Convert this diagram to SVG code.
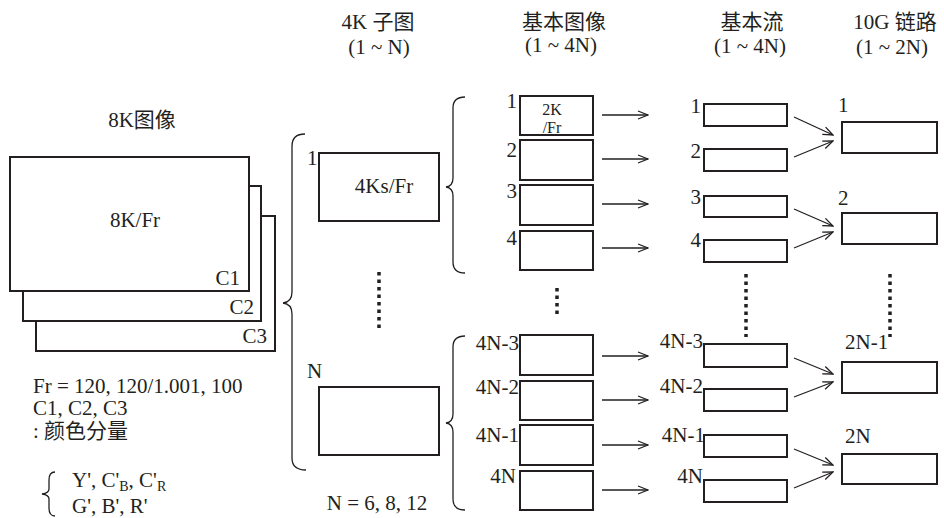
<svg xmlns="http://www.w3.org/2000/svg" width="944" height="518" viewBox="0 0 944 518">
<defs>
<marker id="ah" markerWidth="12" markerHeight="10" refX="11" refY="5" orient="auto" markerUnits="userSpaceOnUse">
<path d="M1,1 L11,5 L1,9" fill="none" stroke="#231f20" stroke-width="1.3"/>
</marker>
</defs>
<style>
text{font-family:'Liberation Serif','Times New Roman',serif;font-size:21px;fill:#231f20}
.cj{font-family:'Liberation Serif','Noto Sans CJK SC',serif}
.m{text-anchor:middle}
.e{text-anchor:end}
.box{fill:#fff;stroke:#231f20;stroke-width:2}
.br{fill:none;stroke:#231f20;stroke-width:1.3}
.arr{fill:none;stroke:#231f20;stroke-width:1.3;marker-end:url(#ah)}
.dot{fill:none;stroke:#231f20;stroke-width:3.5;stroke-dasharray:3.5 4}
.sm{font-size:16px}
.sub{font-size:14px}
</style>
<rect width="944" height="518" fill="#fff"/>

<g id="headers">
<text class="m cj" x="378" y="29">4K 子图</text>
<text class="m" x="379" y="54">(1 ~ N)</text>
<text class="m cj" x="564" y="29">基本图像</text>
<text class="m" x="561" y="52">(1 ~ 4N)</text>
<text class="m cj" x="752" y="29">基本流</text>
<text class="m" x="750" y="53">(1 ~ 4N)</text>
<text class="m cj" x="895" y="29">10G 链路</text>
<text class="m" x="892" y="54">(1 ~ 2N)</text>
</g>

<g id="image8k">
<text class="m cj" x="142" y="127">8K图像</text>
<rect class="box" x="36" y="216" width="239" height="135"/>
<rect class="box" x="23" y="186" width="238" height="135"/>
<rect class="box" x="10" y="157" width="239" height="134"/>
<text class="m" x="135" y="227">8K/Fr</text>
<text class="e" x="240" y="285">C1</text>
<text class="e" x="254" y="314">C2</text>
<text class="e" x="267" y="343">C3</text>
</g>

<g id="notes">
<text x="33" y="393">Fr = 120, 120/1.001, 100</text>
<text x="33" y="415">C1, C2, C3</text>
<text class="cj" x="33" y="438">: 颜色分量</text>
<path class="br" d="M55,472 Q49,472 49,480 L49,489 Q49,493 42,494 Q49,495 49,499 L49,508 Q49,516 55,516"/>
<text x="72" y="487">Y', C'<tspan class="sub" dy="4">B</tspan><tspan dy="-4">, C'</tspan><tspan class="sub" dy="4">R</tspan></text>
<text x="72" y="513">G', B', R'</text>
<text class="m" x="377" y="510">N = 6, 8, 12</text>
</g>

<g id="sub4k">
<rect class="box" x="319" y="153" width="120" height="68"/>
<text x="307" y="165">1</text>
<text class="m" x="384" y="193">4Ks/Fr</text>
<rect class="box" x="319" y="387" width="120" height="68"/>
<text x="307" y="378">N</text>
</g>

<g id="basic">
<rect class="box" x="520" y="96" width="73" height="39"/>
<rect class="box" x="520" y="140" width="73" height="40"/>
<rect class="box" x="520" y="185" width="73" height="40"/>
<rect class="box" x="520" y="231" width="73" height="39"/>
<rect class="box" x="520" y="335" width="73" height="40"/>
<rect class="box" x="520" y="381" width="73" height="39"/>
<rect class="box" x="520" y="425" width="73" height="40"/>
<rect class="box" x="520" y="471" width="73" height="39"/>
<text class="m sm" x="552" y="115">2K</text>
<text class="m sm" x="552" y="133">/Fr</text>
<text class="e" x="517" y="108">1</text>
<text class="e" x="517" y="157">2</text>
<text class="e" x="517" y="198">3</text>
<text class="e" x="517" y="245">4</text>
<text class="e" x="519" y="350">4N-3</text>
<text class="e" x="519" y="394">4N-2</text>
<text class="e" x="519" y="442">4N-1</text>
<text class="e" x="516" y="483">4N</text>
</g>

<g id="streams">
<rect class="box" x="704" y="104" width="83" height="22"/>
<rect class="box" x="704" y="149" width="83" height="22"/>
<rect class="box" x="704" y="196" width="83" height="21"/>
<rect class="box" x="704" y="240" width="83" height="22"/>
<rect class="box" x="704" y="344" width="83" height="23"/>
<rect class="box" x="704" y="389" width="83" height="22"/>
<rect class="box" x="704" y="435" width="83" height="22"/>
<rect class="box" x="704" y="480" width="83" height="22"/>
<text class="e" x="701" y="113">1</text>
<text class="e" x="701" y="158">2</text>
<text class="e" x="701" y="204">3</text>
<text class="e" x="701" y="247">4</text>
<text class="e" x="703" y="348">4N-3</text>
<text class="e" x="703" y="393">4N-2</text>
<text class="e" x="705" y="442">4N-1</text>
<text class="e" x="703" y="483">4N</text>
</g>

<g id="links">
<rect class="box" x="842" y="122" width="95" height="31"/>
<rect class="box" x="842" y="213" width="95" height="31"/>
<rect class="box" x="842" y="362" width="95" height="31"/>
<rect class="box" x="842" y="454" width="95" height="30"/>
<text x="838" y="112">1</text>
<text x="838" y="205">2</text>
<text x="845" y="349">2N-1</text>
<text x="845" y="443">2N</text>
</g>

<g id="connectors">
<path class="br" d="M305,134 Q292,134 292,146 L292,292 Q292,302 283,303 Q292,304 292,314 L292,458 Q292,470 306,470"/>
<path class="br" d="M465,97 Q453,97 453,108 L453,178 Q453,186 446,187 Q453,188 453,196 L453,262 Q453,273 465,273"/>
<path class="br" d="M465,336 Q453,336 453,347 L453,414 Q453,422 446,423 Q453,424 453,432 L453,499 Q453,510 465,510"/>
<line class="dot" x1="379" y1="272" x2="379" y2="329"/>
<line class="dot" x1="557" y1="288" x2="557" y2="315"/>
<line class="dot" x1="746" y1="274" x2="746" y2="337"/>
<line class="dot" x1="890" y1="274" x2="890" y2="337"/>
<line class="arr" x1="602" y1="115" x2="648" y2="115"/>
<line class="arr" x1="602" y1="159" x2="648" y2="159"/>
<line class="arr" x1="602" y1="204" x2="648" y2="204"/>
<line class="arr" x1="602" y1="248" x2="648" y2="248"/>
<line class="arr" x1="602" y1="356" x2="648" y2="356"/>
<line class="arr" x1="602" y1="400" x2="648" y2="400"/>
<line class="arr" x1="602" y1="445" x2="648" y2="445"/>
<line class="arr" x1="602" y1="490" x2="648" y2="490"/>
<line class="arr" x1="794" y1="117" x2="833" y2="135"/>
<line class="arr" x1="794" y1="157" x2="833" y2="141"/>
<line class="arr" x1="794" y1="209" x2="833" y2="226"/>
<line class="arr" x1="794" y1="248" x2="833" y2="232"/>
<line class="arr" x1="794" y1="358" x2="833" y2="374"/>
<line class="arr" x1="794" y1="397" x2="833" y2="382"/>
<line class="arr" x1="794" y1="449" x2="833" y2="465"/>
<line class="arr" x1="794" y1="488" x2="833" y2="472"/>
</g>
</svg>
